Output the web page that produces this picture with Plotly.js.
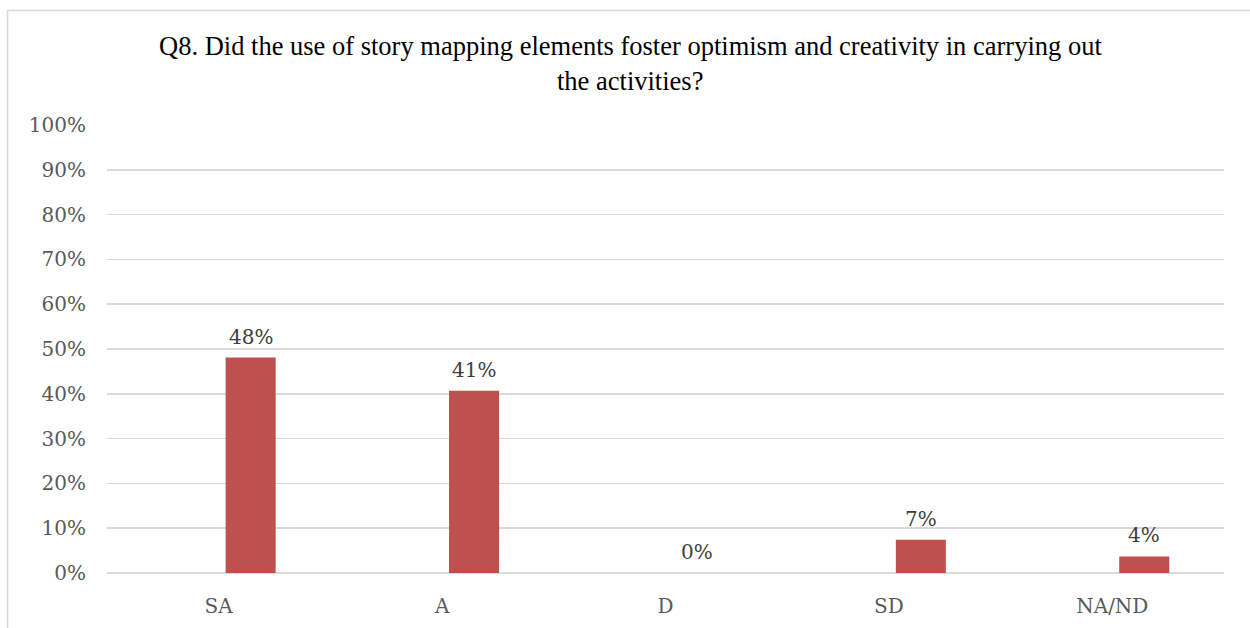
<!DOCTYPE html>
<html>
<head>
<meta charset="utf-8">
<script src="https://cdn.plot.ly/plotly-3.0.1.min.js"></script>
<style>
  html, body { margin: 0; padding: 0; background: #ffffff; }
  #chart { width: 1250px; height: 628px; }
</style>
</head>
<body>
<div id="chart"></div>
<script>
// Response categories and share of respondents (percent)
const categories = ["SA", "A", "D", "SD", "NA/ND"];
const shares = [48.1, 40.7, 0, 7.4, 3.7];
const titleLines = [
  "Q8. Did the use of story mapping elements foster optimism and creativity in carrying out",
  "the activities?"
];

const W = 1250, H = 628;
const M = { l: 107, r: 26, t: 125, b: 55 };
const plotW = W - M.l - M.r;
const plotH = H - M.t - M.b;
// convert pixel position on the page to paper coordinates
const px = x => (x - M.l) / plotW;
const py = y => (H - M.b - y) / plotH;

// bars sit slightly right of each category centre
const barWidth = 0.224;
const barOffset = 0.031;

const serifFont = "DejaVu Serif";
const titleFontFamily = "'Liberation Serif', 'Times New Roman', Times, serif";
const tickFont = { family: serifFont, size: 20, color: "#595959" };

const trace = {
  type: "bar",
  x: categories,
  y: shares,
  width: barWidth,
  offset: barOffset,
  marker: { color: "#c0504d" },
  hoverinfo: "skip"
};

// value labels above each bar
const valueLabels = shares.map((v, i) => ({
  text: Math.round(v) + "%",
  xref: "x", yref: "y",
  x: i + barOffset + barWidth / 2,
  y: v,
  xanchor: "center", yanchor: "middle",
  yshift: 21,
  showarrow: false,
  font: { family: serifFont, size: 20, color: "#404040" }
}));

const titleAnnotations = titleLines.map((t, i) => ({
  text: t,
  xref: "paper", yref: "paper",
  x: px(630), y: py(i === 0 ? 46 : 81),
  xanchor: "center", yanchor: "middle",
  showarrow: false,
  font: { family: titleFontFamily, size: 26.5, color: "#000000" }
}));

const layout = {
  width: W,
  height: H,
  margin: M,
  paper_bgcolor: "#ffffff",
  plot_bgcolor: "#ffffff",
  showlegend: false,
  xaxis: {
    type: "category",
    range: [-0.5, categories.length - 0.5],
    tickfont: tickFont,
    showgrid: false,
    showline: false,
    ticks: "",
    ticklabelstandoff: 19
  },
  yaxis: {
    range: [0, 100],
    dtick: 10,
    ticksuffix: "%",
    tickfont: tickFont,
    showgrid: true,
    gridcolor: "#d9d9d9",
    gridwidth: 1.5,
    zeroline: true,
    zerolinecolor: "#d9d9d9",
    zerolinewidth: 1.5,
    showline: false,
    ticks: "",
    ticklabelstandoff: 20
  },
  annotations: valueLabels.concat(titleAnnotations),
  shapes: [{
    type: "rect",
    xref: "paper", yref: "paper",
    x0: px(7.5), x1: px(1262),
    y0: py(660), y1: py(10.5),
    line: { color: "#d9d9d9", width: 1.5 },
    fillcolor: "rgba(0,0,0,0)",
    layer: "below"
  }]
};

Plotly.newPlot("chart", [trace], layout, { displayModeBar: false, staticPlot: true });
</script>
</body>
</html>
